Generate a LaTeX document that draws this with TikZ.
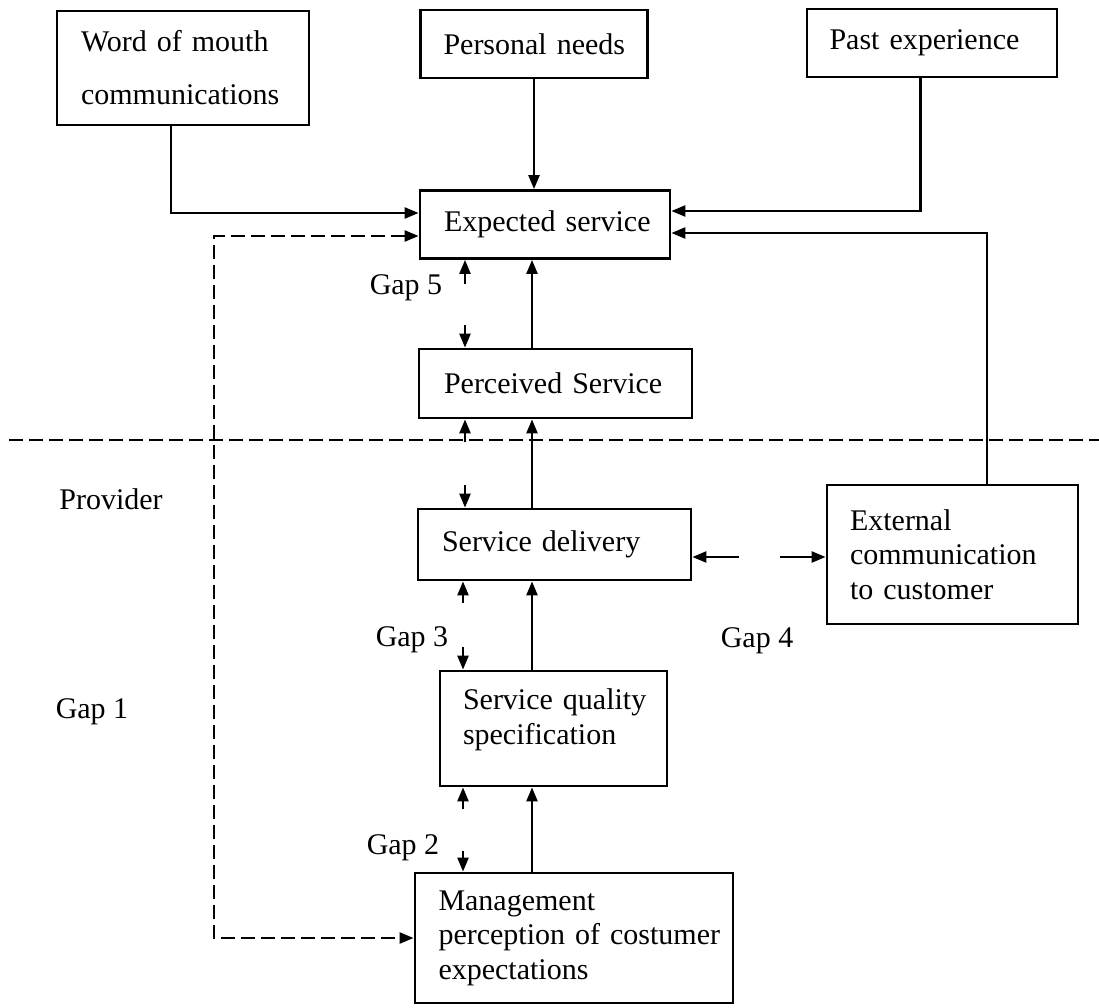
\documentclass[tikz,border=0pt]{standalone}
\usepackage{fontspec}
\setmainfont{Liberation Serif}
\usetikzlibrary{arrows.meta,calc}

\begin{document}
\begin{tikzpicture}[
  x=1pt, y=-1pt,
  every node/.style={font=\fontsize{30}{34.5}\selectfont},
  box/.style={draw, line width=2.8pt, inner ysep=0pt, align=left},
  tip/.style={-{Triangle[length=14pt,width=11pt]}},
  arr/.style={tip, line width=2.4pt},
  dline/.style={line width=2.4pt, dash pattern=on 14pt off 6pt},
  darr/.style={dline, {Triangle[length=14pt,width=11pt]}-{Triangle[length=14pt,width=11pt]}},
  lbl/.style={inner sep=0pt}
]
% canvas
\fill[white] (0,0) rectangle (1099,1008);
\useasboundingbox (0,0) rectangle (1099,1008);

% guide columns for the vertical connectors
\coordinate (sp) at (532,0);   % main spine
\coordinate (gu) at (465,0);   % upper gap markers
\coordinate (gl) at (463,0);   % lower gap markers
\coordinate (g1) at (214,600); % management feedback loop

% customer side
\node[box, minimum width=252pt, minimum height=114pt, inner xsep=24pt, text width=204pt]
  (wom) at (183,68) {\mbox{Word of mouth}\\[18.5pt]\mbox{communications}};
\node[box, minimum width=227pt, minimum height=68pt, inner xsep=23pt, text width=181pt]
  (pn) at (534,44) {\mbox{Personal needs}};
\node[box, minimum width=250pt, minimum height=68pt, inner xsep=22.5pt, text width=205pt]
  (pe) at (932,43) {\mbox{Past experience}};
\node[box, minimum width=250pt, minimum height=68pt, inner xsep=24pt, text width=202pt]
  (es) at (545,224.5) {\mbox{Expected service}};
\node[box, minimum width=273pt, minimum height=69pt, inner xsep=25pt, text width=223pt]
  (ps) at (555.5,383.5) {\mbox{Perceived Service}};

% provider side
\node[box, minimum width=273pt, minimum height=71pt, inner xsep=24pt, text width=225pt]
  (sd) at (554.5,544.5) {\mbox{Service delivery}};
\node[box, minimum width=251pt, minimum height=139pt, inner xsep=23pt, text width=205pt]
  (ext) at (952.5,554.5) {\mbox{External}\\\mbox{communication}\\\mbox{to customer}};
\node[box, minimum width=227pt, minimum height=115pt, inner xsep=23pt, text width=181pt]
  (sq) at (553.5,728.5) {\mbox{Service quality}\\\mbox{specification}\rule[-23.5pt]{0pt}{23.5pt}};
\node[box, minimum width=318pt, minimum height=130pt, inner xsep=23.5pt, text width=271pt]
  (mg) at (574,938) {\mbox{Management}\\\mbox{perception of costumer}\\\mbox{expectations}};

% labels
\node[lbl] (gap5) at (406,288) {Gap 5};
\node[lbl] (gap3) at (412,640) {Gap 3};
\node[lbl] (gap2) at (403,848) {Gap 2};
\node[lbl] (gap4) at (757,641) {Gap 4};
\node[lbl] (prov) at (111,499) {Provider};
\node[lbl] (gap1) at (92,712) {Gap 1};

% customer / provider boundary
\draw[dline] (9,440) -- (1099,440);

% influences on the expected service
\draw[arr] ($(wom.south)+(-12,0)$) |- ($(es.west)+(0,-11.5)$);
\draw[arr] (pn.south) -- (pn.south |- es.north);
\draw[arr] ($(pe.south)+(-11.5,0)$) |- ($(es.east)+(0,-13.5)$);
\draw[arr] ($(ext.north)+(34.5,0)$) |- ($(es.east)+(0,8.5)$);

% management perception loop
\draw[darr] ($(es.west)+(0,11.5)$) -| (g1) |- (mg.west);

% main chain
\draw[arr] (ps.north -| sp) -- (es.south -| sp);
\draw[arr] (sd.north -| sp) -- (ps.south -| sp);
\draw[arr] (sq.north -| sp) -- (sd.south -| sp);
\draw[arr] (mg.north -| sp) -- (sq.south -| sp);

% gap markers
\draw[arr] ($(es.south -| gu)+(0,24)$) -- (es.south -| gu);
\draw[arr] ($(ps.north -| gu)+(0,-23)$) -- (ps.north -| gu);
\draw[arr] ($(ps.south -| gu)+(0,23)$) -- (ps.south -| gu);
\draw[arr] ($(sd.north -| gu)+(0,-23)$) -- (sd.north -| gu);
\draw[arr] ($(sd.south -| gl)+(0,22)$) -- (sd.south -| gl);
\draw[arr] ($(sq.north -| gl)+(0,-23)$) -- (sq.north -| gl);
\draw[arr] ($(sq.south -| gl)+(0,22)$) -- (sq.south -| gl);
\draw[arr] ($(mg.north -| gl)+(0,-21)$) -- (mg.north -| gl);

% gap 4 between delivery and external communication
\draw[arr] ($(sd.east)+(46.5,12.5)$) -- ($(sd.east)+(0,12.5)$);
\draw[arr] ($(ext.west)+(-46,2.5)$) -- ($(ext.west)+(0,2.5)$);
\end{tikzpicture}
\end{document}
